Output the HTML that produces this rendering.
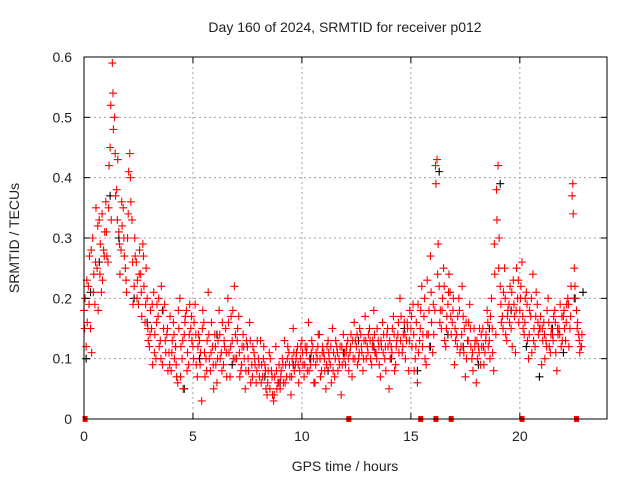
<!DOCTYPE html>
<html><head><meta charset="utf-8"><style>
body{margin:0;background:#fff;}
svg text{font-family:"Liberation Sans",sans-serif;font-size:14px;fill:#222;}
</style></head><body>
<svg id="chart" width="640" height="480" xmlns="http://www.w3.org/2000/svg">
<rect width="640" height="480" fill="#fff"/>
<text x="345" y="32" text-anchor="middle">Day 160 of 2024, SRMTID for receiver p012</text>
<text x="345" y="471" text-anchor="middle">GPS time / hours</text>
<text transform="translate(19,238) rotate(-90)" text-anchor="middle">SRMTID / TECUs</text>
<g id="grid"></g><g id="marks"></g><g id="axes"></g>
</svg>
<script>
const xTicks=[0,5,10,15,20];
const yTicks=[0,0.1,0.2,0.3,0.4,0.5,0.6];
const yTickLabels=["0","0.1","0.2","0.3","0.4","0.5","0.6"];
const redA=[0.18,0.12,0.22,0.15,0.30,0.19,0.25,0.33,0.21,0.28,
0.36,0.26,0.45,0.59,0.50,0.38,0.31,0.28,0.35,0.25,
0.30,0.44,0.33,0.22,0.26,0.19,0.24,0.29,0.16,0.20,
0.12,0.15,0.21,0.10,0.17,0.13,0.09,0.19,0.14,0.11,
0.08,0.16,0.12,0.06,0.20,0.10,0.14,0.18,0.09,0.15,
0.12,0.19,0.07,0.13,0.03,0.16,0.10,0.21,0.08,0.12,
0.14,0.06,0.18,0.11,0.09,0.15,0.20,0.07,0.13,0.22,
0.10,0.17,0.08,0.14,0.05,0.12,0.16,0.09,0.11,0.06,
0.10,0.13,0.07,0.09,0.04,0.11,0.08,0.03,0.12,0.06,
0.05,0.10,0.13,0.07,0.11,0.04,0.15,0.09,0.12,0.08,
0.13,0.07,0.11,0.16,0.09,0.12,0.06,0.10,0.14,0.08,
0.11,0.05,0.13,0.09,0.15,0.07,0.12,0.10,0.04,0.14,
0.09,0.13,0.11,0.07,0.16,0.12,0.10,0.14,0.08,0.17,
0.12,0.15,0.09,0.18,0.11,0.13,0.07,0.16,0.10,0.14,
0.05,0.12,0.17,0.09,0.14,0.20,0.11,0.16,0.13,0.08,
0.15,0.19,0.10,0.06,0.13,0.22,0.17,0.09,0.14,0.27,
0.11,0.18,0.43,0.22,0.15,0.25,0.12,0.19,0.21,0.16,
0.09,0.14,0.20,0.12,0.17,0.07,0.13,0.19,0.10,0.15,
0.06,0.12,0.09,0.15,0.11,0.18,0.13,0.20,0.08,0.14,
0.42,0.22,0.17,0.25,0.13,0.19,0.15,0.23,0.11,0.20,
0.18,0.26,0.14,0.21,0.10,0.17,0.24,0.12,0.19,0.15,
0.09,0.16,0.13,0.20,0.11,0.14,0.18,0.08,0.15,0.12,
0.17,0.13,0.20,0.15,0.37,0.25,0.18,0.14,0.12];
const redB=[0.20,0.16,0.27,0.11,0.24,0.35,0.18,0.29,0.23,0.31,
0.27,0.42,0.33,0.48,0.37,0.43,0.24,0.32,0.27,0.21,
0.41,0.36,0.19,0.27,0.23,0.28,0.17,0.22,0.25,0.13,
0.18,0.09,0.14,0.19,0.12,0.22,0.15,0.11,0.08,0.17,
0.13,0.10,0.07,0.15,0.12,0.05,0.17,0.11,0.19,0.13,
0.16,0.09,0.14,0.11,0.18,0.07,0.13,0.10,0.16,0.05,
0.09,0.13,0.10,0.16,0.12,0.07,0.11,0.17,0.10,0.14,
0.15,0.07,0.12,0.10,0.13,0.08,0.06,0.12,0.09,0.13,
0.07,0.09,0.12,0.05,0.08,0.10,0.04,0.07,0.05,0.09,
0.08,0.06,0.09,0.12,0.07,0.10,0.08,0.11,0.06,0.12,
0.09,0.12,0.08,0.10,0.13,0.06,0.11,0.14,0.07,0.12,
0.08,0.12,0.10,0.06,0.11,0.13,0.08,0.12,0.09,0.11,
0.12,0.08,0.14,0.10,0.13,0.09,0.15,0.11,0.13,0.10,
0.14,0.10,0.13,0.11,0.15,0.09,0.12,0.14,0.08,0.12,
0.10,0.15,0.08,0.13,0.11,0.17,0.14,0.10,0.15,0.18,
0.12,0.08,0.16,0.11,0.18,0.14,0.10,0.23,0.12,0.16,
0.14,0.39,0.29,0.18,0.20,0.13,0.17,0.24,0.14,0.20,
0.13,0.17,0.11,0.22,0.15,0.10,0.16,0.12,0.08,0.13,
0.10,0.15,0.12,0.09,0.14,0.12,0.17,0.11,0.24,0.33,
0.30,0.16,0.21,0.14,0.18,0.22,0.12,0.17,0.25,0.16,
0.22,0.15,0.20,0.13,0.18,0.11,0.15,0.21,0.14,0.17,
0.13,0.10,0.18,0.12,0.15,0.17,0.11,0.14,0.19,0.13,
0.15,0.19,0.12,0.22,0.34,0.20,0.16,0.11,0.14];
const redC=[0.15,0.23,0.19,0.28,0.21,0.26,0.32,0.24,0.34,0.27,
0.31,0.35,0.52,0.54,0.44,0.33,0.29,0.36,0.30,0.23,
0.34,0.40,0.26,0.30,0.20,0.24,0.21,0.27,0.19,0.15,
0.14,0.19,0.11,0.16,0.20,0.10,0.18,0.13,0.15,0.09,
0.11,0.14,0.09,0.18,0.07,0.13,0.16,0.08,0.14,0.17,
0.10,0.14,0.12,0.09,0.15,0.11,0.08,0.14,0.11,0.09,
0.12,0.10,0.14,0.08,0.13,0.11,0.16,0.12,0.18,0.10,
0.13,0.11,0.09,0.12,0.08,0.10,0.13,0.07,0.10,0.08,
0.09,0.06,0.10,0.08,0.06,0.05,0.07,0.04,0.08,0.06,
0.07,0.09,0.06,0.10,0.09,0.07,0.11,0.10,0.09,0.10,
0.11,0.09,0.12,0.08,0.11,0.10,0.09,0.12,0.10,0.11,
0.10,0.09,0.11,0.12,0.08,0.10,0.11,0.09,0.12,0.10,
0.11,0.10,0.12,0.13,0.10,0.14,0.11,0.12,0.10,0.13,
0.11,0.13,0.12,0.14,0.10,0.12,0.13,0.11,0.12,0.15,
0.13,0.11,0.14,0.12,0.16,0.13,0.12,0.14,0.16,0.13,
0.17,0.14,0.12,0.19,0.15,0.12,0.20,0.14,0.18,0.21,
0.19,0.42,0.24,0.16,0.18,0.22,0.15,0.21,0.17,0.18,
0.15,0.12,0.18,0.14,0.11,0.16,0.13,0.15,0.11,0.12,
0.13,0.11,0.14,0.12,0.13,0.16,0.10,0.15,0.29,0.38,
0.25,0.19,0.15,0.20,0.17,0.16,0.21,0.19,0.18,0.23,
0.20,0.17,0.16,0.19,0.14,0.20,0.13,0.17,0.16,0.15,
0.15,0.14,0.12,0.16,0.14,0.13,0.16,0.15,0.14,0.17,
0.18,0.16,0.19,0.17,0.39,0.22,0.15,0.13,0.12];
const blackT=[0.1,0.3,0.7,1.2,1.6,2.3,2.9,3.6,4.2,4.6,5.3,6.1,6.8,7.5,8.3,9.0,9.6,10.4,11.2,11.9,12.6,13.3,14.1,14.7,15.3,15.9,16.3,16.7,17.4,18.1,18.6,19.1,19.6,20.3,20.9,21.5,22.0,22.5,22.9];
const blackV=[0.10,0.21,0.26,0.37,0.30,0.20,0.16,0.18,0.12,0.05,0.10,0.14,0.09,0.12,0.07,0.06,0.09,0.10,0.08,0.11,0.13,0.12,0.10,0.15,0.08,0.12,0.41,0.14,0.12,0.09,0.15,0.39,0.18,0.12,0.07,0.15,0.11,0.20,0.21];
const zeroT=[0.05,12.15,15.45,16.15,16.85,20.1,22.6];
const X0=84,X1=607,Y0=419,Y1=57,XMAX=24,YMAX=0.6;
const sx=t=>X0+(X1-X0)*t/XMAX, sy=v=>Y0-(Y0-Y1)*v/YMAX;
const NS="http://www.w3.org/2000/svg";
function mk(tag,attrs,parent){const e=document.createElementNS(NS,tag);for(const k in attrs)e.setAttribute(k,attrs[k]);parent.appendChild(e);return e;}
const grid=document.getElementById('grid'),marks=document.getElementById('marks'),axes=document.getElementById('axes');
xTicks.forEach(t=>{if(t>0){const l=mk('line',{x1:sx(t),x2:sx(t),y1:Y0,y2:Y1,stroke:'#a0a0a0','stroke-dasharray':'2,3'},grid);

}
const tx=mk('text',{x:sx(t),y:Y0+22,'text-anchor':'middle'},axes);tx.textContent=t;


mk('line',{x1:sx(t),x2:sx(t),y1:Y0,y2:Y0-6,stroke:'#000'},axes);mk('line',{x1:sx(t),x2:sx(t),y1:Y1,y2:Y1+6,stroke:'#000'},axes);});
yTicks.forEach((v,i)=>{if(v>0&&v<YMAX){const l=mk('line',{x1:X0,x2:X1,y1:sy(v),y2:sy(v),stroke:'#a0a0a0','stroke-dasharray':'2,3'},grid);

}
const tx=mk('text',{x:X0-12,y:sy(v)+5,'text-anchor':'end'},axes);tx.textContent=yTickLabels[i];


mk('line',{x1:X0,x2:X0+6,y1:sy(v),y2:sy(v),stroke:'#000'},axes);mk('line',{x1:X1,x2:X1-6,y1:sy(v),y2:sy(v),stroke:'#000'},axes);});
const frame=mk('rect',{x:X0,y:Y1,width:X1-X0,height:Y0-Y1,fill:'none',stroke:'#000'},axes);


function plus(t,v,col,name){const x=sx(t),y=sy(v);
const p=mk('path',{d:`M${x-4},${y}H${x+4}M${x},${y-4}V${y+4}`,stroke:col,'stroke-width':1.1,fill:'none'},marks);

}
blackT.forEach((t,i)=>plus(t,blackV[i],'#000','black-point'));
redA.forEach((v,i)=>plus(i*0.1,v,'#f00','red-point'));
redB.forEach((v,i)=>plus(0.05+i*0.1,v,'#f00','red-point'));
redC.forEach((v,i)=>plus(0.03+i*0.1,v,'#f00','red-point'));
zeroT.forEach(t=>{const r=mk('rect',{x:sx(t)-2.5,y:Y0-3,width:5,height:6,fill:'#f00'},marks);

});
</script>
</body></html>
